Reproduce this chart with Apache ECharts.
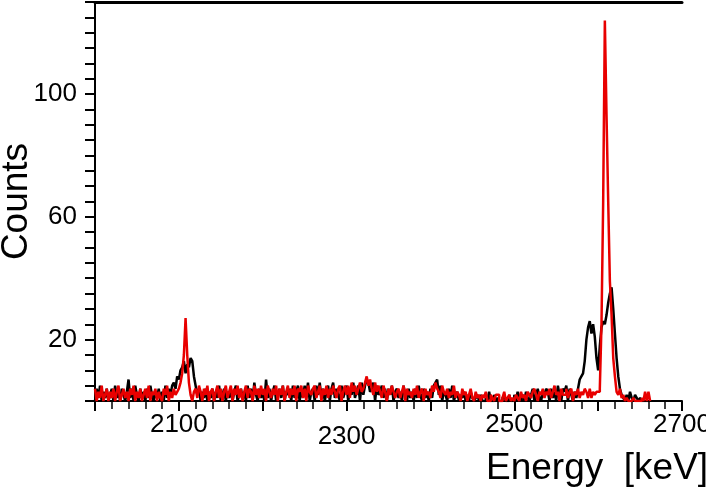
<!DOCTYPE html>
<html>
<head>
<meta charset="utf-8">
<script src="https://cdn.jsdelivr.net/npm/echarts@6/dist/echarts.min.js"></script>
<style>
html,body{margin:0;padding:0;background:#fff;}
#chart{width:706px;height:487px;}
</style>
</head>
<body>
<div id="chart"></div>
<script>
// Histogram bins: lower edge of first bin and bin width (keV)
const energyStart = 2000;
const binWidth = 2;

// Black spectrum counts per 2 keV bin, starting at 2000 keV
const blackCounts = [
  0,4,1,5,0,3,1,4,0,2,
  4,0,5,1,3,0,4,2,0,3,
  7,1,4,0,5,2,0,4,1,3,
  0,4,1,5,2,0,3,1,4,0,
  3,0,5,1,4,2,5,6,4,8,
  7,10,11,13,9,12,11,14,13,8,
  5,2,4,0,3,1,4,0,3,1,
  4,0,3,1,5,0,2,4,0,3,
  1,4,0,3,5,0,2,4,1,3,
  0,5,1,4,0,6,2,0,4,1,
  3,0,7,1,4,0,3,5,0,2,
  4,1,5,0,3,2,4,0,5,1,
  3,5,0,4,1,5,2,6,0,3,
  4,0,5,2,6,1,4,0,3,5,
  0,4,6,1,4,2,0,5,1,3,
  5,0,4,2,6,1,3,5,0,6,
  2,5,7,6,3,4,6,0,5,2,
  3,5,1,4,0,4,2,5,0,3,
  4,1,3,0,5,2,0,4,1,3,
  0,4,1,5,2,0,4,1,3,0,
  4,1,5,6,7,2,5,0,3,2,
  0,4,1,5,0,2,3,0,2,1,
  3,0,2,0,3,1,0,1,2,0,
  2,0,0,1,0,3,0,0,2,0,
  1,0,0,1,2,0,0,2,0,0,
  2,0,3,1,0,2,0,3,1,0,
  2,4,0,2,4,1,0,3,2,4,
  3,0,4,1,3,0,5,2,0,4,
  3,5,0,4,2,0,3,1,4,7,
  8,9,13,20,24,26,22,25,21,14,
  10,18,24,26,25,28,32,35,37,30,
  22,14,8,4,2,1,0,2,0,3,
  1,0,2,1,0,1,0,0,0,0
];

// Red spectrum counts per 2 keV bin, starting at 2000 keV
const redCounts = [
  4,0,3,1,5,0,2,4,0,3,
  1,4,0,3,5,0,2,4,1,3,
  0,4,2,5,0,3,1,4,0,2,
  4,1,5,0,3,2,4,0,3,1,
  0,4,2,5,0,3,1,4,2,3,
  4,6,9,15,27,15,6,2,0,3,
  4,1,5,3,0,4,2,5,0,3,
  4,0,3,5,1,4,0,3,5,1,
  3,5,0,4,2,5,1,4,0,3,
  5,1,4,3,0,5,2,4,1,5,
  2,4,0,5,3,1,4,2,5,0,
  4,2,5,0,3,5,1,4,2,5,
  0,4,3,5,1,4,0,5,3,2,
  4,5,1,3,5,0,4,2,5,1,
  4,2,5,3,1,4,5,0,3,5,
  2,5,1,6,3,5,2,4,6,3,
  4,6,8,5,7,4,2,6,3,5,
  3,1,5,3,0,4,2,5,3,1,
  3,4,1,3,5,0,4,2,3,1,
  4,2,5,1,3,4,0,4,2,3,
  1,5,3,6,4,3,1,5,3,2,
  4,1,3,2,5,1,3,2,0,4,
  2,3,0,2,4,1,0,3,1,2,
  0,2,1,3,0,0,2,1,0,2,
  2,0,0,1,3,0,1,2,0,1,
  0,2,1,0,3,1,2,0,3,2,
  1,3,4,2,0,3,2,4,1,3,
  2,4,1,3,5,2,3,0,4,2,
  2,4,1,3,4,0,3,2,4,1,
  3,2,4,3,1,4,1,3,2,3,
  3,4,25,65,124,93,65,39,28,14,
  8,3,2,4,1,2,0,1,0,0,
  0,1,0,0,0,0,1,0,3,0,
  3
];

// Axis ticks/labels
const xLabels = [2100, 2300, 2500, 2700];
const yLabels = [20, 60, 100];
const xMin = 2000, xMax = 2700, yMin = 0, yMax = 130;

function toHist(counts) {
  const d = counts.map((v, i) => [energyStart + i * binWidth, v]);
  d.push([energyStart + counts.length * binWidth, 0]);
  return d;
}

const FONT = '"Liberation Sans", Arial, sans-serif';
const chart = echarts.init(document.getElementById('chart'), null, {renderer: 'canvas'});
chart.setOption({
  animation: false,
  backgroundColor: '#ffffff',
  title: {
    text: 'Energy  [keV]',
    left: 486,
    top: 450,
    padding: 0,
    textStyle: {fontFamily: FONT, fontSize: 37, fontWeight: 'normal', color: '#000'}
  },
  grid: {left: 95, right: 24, top: 2, bottom: 86, containLabel: false, outerBoundsMode: 'none'},
  xAxis: [{
    type: 'value',
    min: xMin, max: xMax, interval: 100,
    axisLine: {show: true, onZero: false, lineStyle: {color: '#000', width: 2}},
    axisTick: {show: true, inside: false, length: 10, lineStyle: {color: '#000', width: 2}},
    minorTick: {show: true, splitNumber: 5, length: 8, lineStyle: {color: '#000', width: 1.5}},
    splitLine: {show: false},
    axisLabel: {
      margin: 11,
      fontFamily: FONT, fontSize: 26, color: '#000',
      formatter: v => v === 2300 ? '{low|2300}' : (xLabels.indexOf(v) >= 0 ? String(v) : ''),
      rich: {low: {fontFamily: FONT, fontSize: 26, color: '#000', padding: [12, 0, 0, 0]}}
    }
  }, {
    type: 'value', position: 'top',
    min: xMin, max: xMax,
    axisLine: {show: true, onZero: false, lineStyle: {color: '#000', width: 3}},
    axisTick: {show: false}, axisLabel: {show: false}, splitLine: {show: false}
  }],
  yAxis: {
    type: 'value',
    min: yMin, max: yMax, interval: 5,
    name: 'Counts',
    nameLocation: 'middle',
    nameRotate: 90,
    nameGap: 60,
    nameMoveOverlap: false,
    nameTextStyle: {fontFamily: FONT, fontSize: 37, color: '#000'},
    axisLine: {show: true, onZero: false, lineStyle: {color: '#000', width: 2}},
    axisTick: {show: true, inside: false, length: 10, lineStyle: {color: '#000', width: 2}},
    splitLine: {show: false},
    axisLabel: {
      margin: 18,
      fontFamily: FONT, fontSize: 26, color: '#000',
      formatter: v => yLabels.indexOf(v) >= 0 ? String(v) : ''
    }
  },
  series: [{
    name: 'black',
    type: 'line',
    step: 'end',
    showSymbol: false,
    symbol: 'none',
    data: toHist(blackCounts),
    lineStyle: {color: '#000000', width: 2.5},
    z: 2
  }, {
    name: 'red',
    type: 'line',
    step: 'end',
    showSymbol: false,
    symbol: 'none',
    data: toHist(redCounts),
    lineStyle: {color: '#e80000', width: 2.5},
    z: 3
  }]
});
</script>
</body>
</html>
